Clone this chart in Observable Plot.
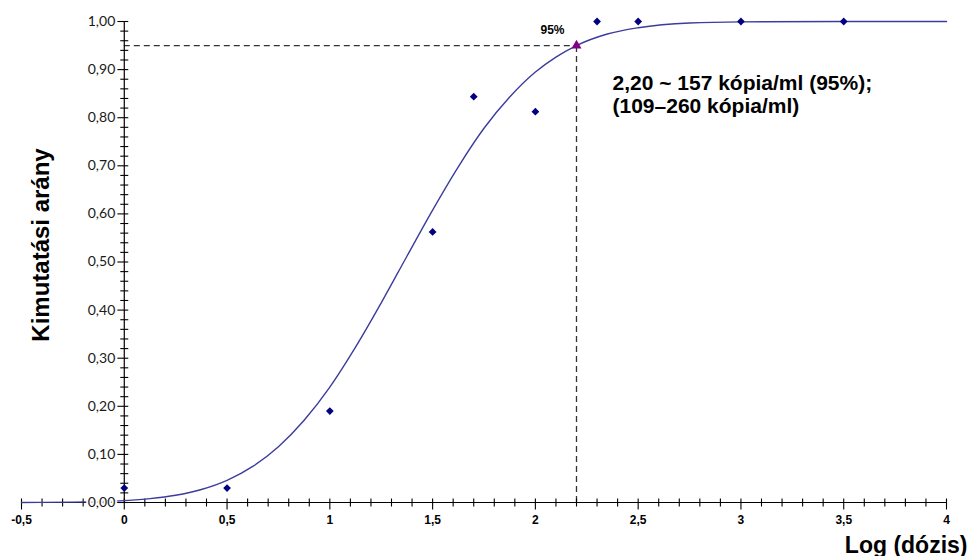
<!DOCTYPE html>
<html><head><meta charset="utf-8">
<script src="https://cdn.jsdelivr.net/npm/d3@7"></script>
<script src="https://cdn.jsdelivr.net/npm/@observablehq/plot@0.6"></script>
<style>body{margin:0;background:#fff}#chart svg{display:block}</style>
</head><body><div id="chart"></div>
<script>
// Observed hit rates vs log(dose)
const doseLog = [0, 0.5, 1, 1.5, 1.7, 2, 2.3, 2.5, 3, 3.5];
const hitRate = [0.03, 0.03, 0.19, 0.5625, 0.84375, 0.8125, 1, 1, 1, 1];
// Fitted (probit) curve
const fitX = [-0.5, -0.25, 0, 0.125, 0.25, 0.375, 0.5, 0.625, 0.75, 0.875, 1, 1.125, 1.25, 1.375, 1.5, 1.625, 1.75, 1.875, 2, 2.1, 2.2, 2.35, 2.5, 2.75, 3, 3.5, 4];
const fitY = [0.0001, 0.0008, 0.004, 0.008, 0.015, 0.027, 0.046, 0.075, 0.116, 0.171, 0.240, 0.323, 0.415, 0.512, 0.608, 0.698, 0.778, 0.843, 0.895, 0.926, 0.950, 0.974, 0.987, 0.997, 0.9993, 1, 1];
// 95% point
const lodX = [2.2];
const lodY = [0.95];
const lodLabel = ["95%"];
const annotation = ["2,20 ~ 157 kópia/ml (95%);", "(109–260 kópia/ml)"];
// Axes
const xTicks = [-0.5, 0, 0.5, 1, 1.5, 2, 2.5, 3, 3.5, 4];
const xTickLabels = ["-0,5", "0", "0,5", "1", "1,5", "2", "2,5", "3", "3,5", "4"];
const yTicks = [0, 0.1, 0.2, 0.3, 0.4, 0.5, 0.6, 0.7, 0.8, 0.9, 1];
const yTickLabels = ["0,00", "0,10", "0,20", "0,30", "0,40", "0,50", "0,60", "0,70", "0,80", "0,90", "1,00"];
const xLabel = "Log (dózis)";
const yLabel = "Kimutatási arány";

const points = doseLog.map((x, i) => ({x, y: hitRate[i]}));
const fit = fitX.map((x, i) => ({x, y: fitY[i]}));
const lod = lodX.map((x, i) => ({x, y: lodY[i], label: lodLabel[i]}));
const xMinor = d3.range(-5, 41).map(i => i / 10).filter(v => Math.abs(v * 2 - Math.round(v * 2)) > 1e-9);
const yMinor = d3.range(0, 51).map(i => i / 50).filter(v => Math.abs(v * 10 - Math.round(v * 10)) > 1e-9);

const seg = (x1, y1, x2, y2) => ({draw(c) { c.moveTo(x1, y1); c.lineTo(x2, y2); }});

const chart = Plot.plot({
  width: 971,
  height: 556,
  marginLeft: 21,
  marginRight: 25,
  marginTop: 21,
  marginBottom: 54,
  x: {domain: [-0.5, 4], axis: null},
  y: {domain: [0, 1], axis: null},
  style: {fontFamily: "'Liberation Sans', Arial, sans-serif", background: "#fff", color: "#000"},
  marks: [
    Plot.ruleY(lod, {y: "y", x1: 0, x2: "x", stroke: "#333", strokeWidth: 1.3, strokeDasharray: "6,4"}),
    Plot.ruleX(lod, {x: "x", y1: 0, y2: "y", stroke: "#333", strokeWidth: 1.3, strokeDasharray: "6,4"}),
    Plot.ruleY([0], {x1: -0.5, x2: 4, stroke: "#000", strokeWidth: 1.2}),
    Plot.ruleX([0], {y1: 0, y2: 1, stroke: "#000", strokeWidth: 1.2}),
    Plot.dot(xMinor, {x: d => d, y: 0, symbol: seg(0, -4, 0, 4), stroke: "#000", strokeWidth: 1.1, fill: "none"}),
    Plot.dot(xTicks, {x: d => d, y: 0, symbol: seg(0, -4, 0, 7), stroke: "#000", strokeWidth: 1.1, fill: "none"}),
    Plot.dot(yMinor, {x: 0, y: d => d, symbol: seg(-4, 0, 4, 0), stroke: "#000", strokeWidth: 1.1, fill: "none"}),
    Plot.dot(yTicks, {x: 0, y: d => d, symbol: seg(-7, 0, 4, 0), stroke: "#000", strokeWidth: 1.1, fill: "none"}),
    Plot.line(fit, {x: "x", y: "y", curve: "monotone-x", stroke: "#3c3c9c", strokeWidth: 1.4}),
    Plot.text(yTicks, {x: 0, y: d => d, text: (d, i) => yTickLabels[i], textAnchor: "end", dx: -9, fontSize: 14, fontFamily: "Lato, 'DejaVu Sans', sans-serif", fill: "#fff", stroke: "#fff", strokeWidth: 4}),
    Plot.text(yTicks, {x: 0, y: d => d, text: (d, i) => yTickLabels[i], textAnchor: "end", dx: -9, fontSize: 14, fontFamily: "Lato, 'DejaVu Sans', sans-serif", fill: "#1a1a1a"}),
    Plot.text(xTicks, {x: d => d, y: 0, text: (d, i) => xTickLabels[i], dy: 21, lineAnchor: "bottom", fontSize: 12, fontWeight: "bold", fill: "#000"}),
    Plot.dot(points, {x: "x", y: "y", symbol: "diamond2", r: 3.5, fill: "#000080", stroke: "none"}),
    Plot.dot(lod, {x: "x", y: "y", symbol: "triangle", r: 3.7, fill: "#800080", stroke: "none"}),
    Plot.text(lod, {x: "x", y: "y", text: "label", dx: -24, dy: -12, lineAnchor: "bottom", fontSize: 12, fontWeight: "bold", fill: "#000"}),
    Plot.text([annotation.join("\n")], {frameAnchor: "top-left", dx: 591, dy: 52, lineAnchor: "top", textAnchor: "start", fontSize: 21, fontWeight: "bold", lineHeight: 1.1, fill: "#000"}),
    Plot.text([xLabel], {frameAnchor: "bottom-right", dx: 21, dy: 50, textAnchor: "end", lineAnchor: "bottom", fontSize: 23, fontWeight: "bold", fill: "#000"}),
    Plot.text([yLabel], {frameAnchor: "left", dx: 20, dy: -17, rotate: -90, textAnchor: "middle", lineAnchor: "middle", fontSize: 24, fontWeight: "bold", fill: "#000"})
  ]
});
document.getElementById("chart").appendChild(chart);
</script>
</body></html>
